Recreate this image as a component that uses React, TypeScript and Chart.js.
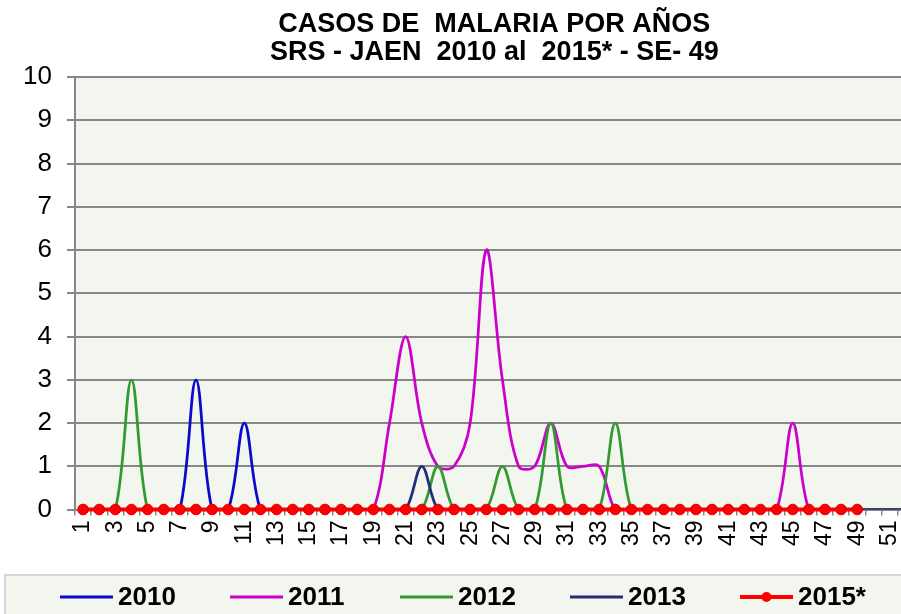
import React, { useEffect, useRef } from 'react';
import { Chart, registerables } from 'chart.js';

Chart.register(...registerables);

const WEEKS = [
  '1', '2', '3', '4', '5', '6', '7', '8', '9', '10', '11', '12', '13',
  '14', '15', '16', '17', '18', '19', '20', '21', '22', '23', '24', '25', '26',
  '27', '28', '29', '30', '31', '32', '33', '34', '35', '36', '37', '38', '39',
  '40', '41', '42', '43', '44', '45', '46', '47', '48', '49', '50', '51', '52',
];

const Y2010 = [
  0, 0, 0, 0, 0, 0, 0, 3, 0, 0, 2, 0, 0,
  0, 0, 0, 0, 0, 0, 0, 0, 0, 0, 0, 0, 0,
  0, 0, 0, 0, 0, 0, 0, 0, 0, 0, 0, 0, 0,
  0, 0, 0, 0, 0, 0, 0, 0, 0, 0, 0, 0, 0,
];

const Y2011 = [
  0, 0, 0, 0, 0, 0, 0, 0, 0, 0, 0, 0, 0,
  0, 0, 0, 0, 0, 0, 2, 4, 2, 1, 1, 2, 6,
  3, 1, 1, 2, 1, 1, 1, 0, 0, 0, 0, 0, 0,
  0, 0, 0, 0, 0, 2, 0, 0, 0, 0, 0, 0, 0,
];

const Y2012 = [
  0, 0, 0, 3, 0, 0, 0, 0, 0, 0, 0, 0, 0,
  0, 0, 0, 0, 0, 0, 0, 0, 0, 1, 0, 0, 0,
  1, 0, 0, 2, 0, 0, 0, 2, 0, 0, 0, 0, 0,
  0, 0, 0, 0, 0, 0, 0, 0, 0, 0, 0, 0, 0,
];

const Y2013 = [
  0, 0, 0, 0, 0, 0, 0, 0, 0, 0, 0, 0, 0,
  0, 0, 0, 0, 0, 0, 0, 0, 1, 0, 0, 0, 0,
  0, 0, 0, 0, 0, 0, 0, 0, 0, 0, 0, 0, 0,
  0, 0, 0, 0, 0, 0, 0, 0, 0, 0, 0, 0, 0,
];

const Y2015 = [
  0, 0, 0, 0, 0, 0, 0, 0, 0, 0, 0, 0, 0,
  0, 0, 0, 0, 0, 0, 0, 0, 0, 0, 0, 0, 0,
  0, 0, 0, 0, 0, 0, 0, 0, 0, 0, 0, 0, 0,
  0, 0, 0, 0, 0, 0, 0, 0, 0, 0, null, null, null,
];

const TITLE_LINES = ['CASOS DE  MALARIA POR AÑOS', 'SRS - JAEN  2010 al  2015* - SE- 49'];

const FONT = '"Liberation Sans", Arial, Helvetica, sans-serif';
const PLOT_BG = '#F3F6EE';
const GRID = '#878787';

const bgPlugin = {
  id: 'plotBg',
  beforeDraw(chart: any) {
    const { ctx, chartArea } = chart;
    if (!chartArea) return;
    ctx.save();
    ctx.fillStyle = PLOT_BG;
    ctx.fillRect(chartArea.left, chartArea.top, chartArea.right - chartArea.left, chartArea.bottom - chartArea.top);
    ctx.restore();
  },
};

const boxLegend = {
  id: 'boxLegend',
  afterDraw(chart: any) {
    const { ctx } = chart;
    const top = chart.height - 39;
    const cy = top + 22;
    ctx.save();
    ctx.fillStyle = PLOT_BG;
    ctx.fillRect(5, top, chart.width, 60);
    ctx.strokeStyle = '#D6D6D6';
    ctx.lineWidth = 2;
    ctx.strokeRect(5, top, chart.width + 20, 60);
    ctx.font = `bold 26px ${FONT}`;
    ctx.textBaseline = 'middle';
    ctx.textAlign = 'left';
    let x = 60;
    chart.data.datasets.forEach((ds: any) => {
      ctx.strokeStyle = ds.borderColor;
      ctx.lineWidth = ds.pointRadius > 0 ? 4 : 3;
      ctx.beginPath();
      ctx.moveTo(x, cy);
      ctx.lineTo(x + 53, cy);
      ctx.stroke();
      if (ds.pointRadius > 0) {
        ctx.fillStyle = ds.pointBackgroundColor;
        ctx.beginPath();
        ctx.arc(x + 26.5, cy, 5, 0, Math.PI * 2);
        ctx.fill();
      }
      ctx.fillStyle = '#000';
      ctx.fillText(ds.label, x + 58, cy + 1);
      const w = ctx.measureText(ds.label).width;
      x += 58 + Math.max(w, 58) + 54;
    });
    ctx.restore();
  },
};

export default function App() {
  const ref = useRef<HTMLCanvasElement>(null);

  useEffect(() => {
    if (!ref.current) return;
    const line = (label: string, data: (number | null)[], color: string, order: number) => ({
      label,
      data,
      borderColor: color,
      backgroundColor: color,
      borderWidth: 2.75,
      pointRadius: 0,
      pointHoverRadius: 0,
      tension: 0.35,
      cubicInterpolationMode: 'default',
      order,
    });
    const chart = new Chart(ref.current, {
      type: 'line',
      data: {
        labels: WEEKS,
        datasets: [
          line('2010', Y2010, '#0A0ACC', 4),
          line('2011', Y2011, '#CC00CC', 3),
          line('2012', Y2012, '#339933', 2),
          line('2013', Y2013, '#272C78', 1),
          {
            label: '2015*',
            data: Y2015,
            borderColor: '#FF0000',
            backgroundColor: '#FF0000',
            borderWidth: 4,
            pointRadius: 5.3,
            pointHoverRadius: 5.3,
            pointBackgroundColor: '#FF0000',
            pointBorderColor: '#D00000',
            pointBorderWidth: 1,
            tension: 0,
            clip: false,
            order: 0,
          },
        ] as any,
      },
      options: {
        animation: false,
        responsive: false,
        maintainAspectRatio: false,
        events: [],
        layout: { padding: { left: 0, right: 0, top: 0, bottom: 45 } },
        plugins: {
          legend: { display: false },
          tooltip: { enabled: false },
          title: {
            display: true,
            text: TITLE_LINES,
            fullSize: false,
            color: '#000',
            font: { family: FONT, size: 27, weight: 'bold', lineHeight: 1.02 },
            padding: { top: 11, bottom: 11 },
          },
        },
        scales: {
          x: {
            offset: true,
            grid: {
              drawOnChartArea: false,
              drawTicks: true,
              tickLength: 6,
              offset: true,
              color: GRID,
              lineWidth: 1.5,
            },
            border: { display: true, color: GRID, width: 2 },
            ticks: {
              autoSkip: false,
              maxRotation: 90,
              minRotation: 90,
              padding: 5,
              color: '#000',
              font: { family: FONT, size: 23 },
              callback: (_v: any, i: number) => (Number(WEEKS[i]) % 2 === 1 ? WEEKS[i] : ''),
            },
            afterFit: (s: any) => {
              s.height = 59.5;
              s.paddingLeft = 0;
              s.paddingRight = 0;
            },
          },
          y: {
            min: 0,
            max: 10,
            grid: { color: GRID, lineWidth: 2, tickLength: 8, drawTicks: true },
            border: { display: true, color: GRID, width: 2 },
            ticks: {
              stepSize: 1,
              padding: 15,
              color: '#000',
              font: { family: FONT, size: 26 },
            },
            afterFit: (s: any) => {
              s.width = 75;
            },
          },
        },
      } as any,
      plugins: [bgPlugin, boxLegend],
    });
    return () => chart.destroy();
  }, []);

  return (
    <div
      style={{
        position: 'fixed',
        left: 0,
        top: 0,
        width: 901,
        height: 614,
        overflow: 'hidden',
        background: '#fff',
      }}
    >
      <canvas ref={ref} width={920} height={614} style={{ display: 'block' }} />
    </div>
  );
}
